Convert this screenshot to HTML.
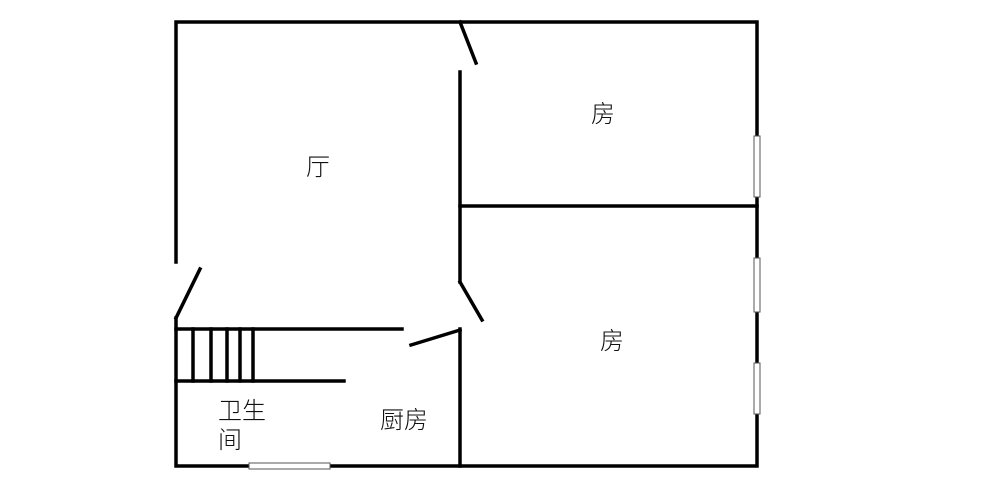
<!DOCTYPE html>
<html><head><meta charset="utf-8"><style>
html,body{margin:0;padding:0;background:#fff;width:1000px;height:493px;overflow:hidden}
text{font-family:"Liberation Sans","Noto Sans CJK SC",sans-serif;font-size:24px;font-weight:300;fill:#111}
</style></head><body>
<svg width="1000" height="493" viewBox="0 0 1000 493" xmlns="http://www.w3.org/2000/svg">
<g stroke="#000" stroke-width="3.5" fill="none" stroke-linecap="square">
<polyline points="176,262 176,22 757,22 757,466 176,466 176,318"/>
<line x1="200" y1="269" x2="176" y2="318"/>
<line x1="460" y1="72" x2="460" y2="282"/>
<line x1="460" y1="22" x2="476" y2="63"/>
<line x1="460" y1="282" x2="482" y2="320"/>
<line x1="460" y1="206" x2="757" y2="206"/>
<line x1="460" y1="329" x2="460" y2="466"/>
<line x1="411" y1="345" x2="460" y2="330"/>
<line x1="176" y1="329" x2="402" y2="329"/>
<line x1="176" y1="381" x2="344" y2="381"/>
<line x1="193" y1="329" x2="193" y2="381"/>
<line x1="211" y1="329" x2="211" y2="381"/>
<line x1="227" y1="329" x2="227" y2="381"/>
<line x1="240" y1="329" x2="240" y2="381"/>
<line x1="253" y1="329" x2="253" y2="381"/>
</g>
<g fill="#fff" stroke="#555" stroke-width="1">
<rect x="754" y="136" width="6" height="61"/>
<rect x="754" y="258" width="6" height="54"/>
<rect x="754" y="363" width="6" height="51"/>
<rect x="249" y="463" width="81" height="6"/>
</g>
<text x="306" y="175">厅</text>
<text x="591" y="122">房</text>
<text x="600" y="349">房</text>
<text x="218" y="419">卫生</text>
<text x="218" y="448">间</text>
<text x="380" y="428">厨房</text>
</svg>
</body></html>
